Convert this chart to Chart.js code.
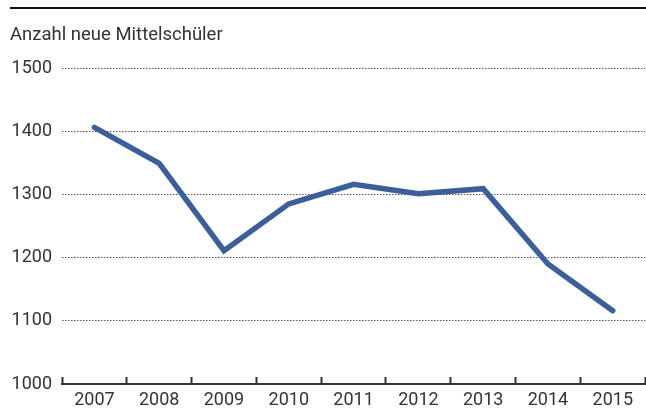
<!DOCTYPE html>
<html>
<head>
<meta charset="utf-8">
<script src="https://cdn.jsdelivr.net/npm/chart.js@4"></script>
<style>
  html, body { margin: 0; padding: 0; background: #fff; }
  #wrap { width: 646px; height: 412px; }
</style>
</head>
<body>
<div id="wrap"><canvas id="lineChart" width="646" height="412"></canvas></div>
<script>
// Anzahl neue Mittelschüler, 2007 - 2015
const years = ['2007', '2008', '2009', '2010', '2011', '2012', '2013', '2014', '2015'];
const schueler = [1406, 1349, 1211, 1285, 1316, 1301, 1309, 1190, 1116];
const yTicks = [1000, 1100, 1200, 1300, 1400, 1500];

const titleText = 'Anzahl neue Mittelschüler';

// black rule across the top
const topRule = {
    id: 'topRule',
    beforeDraw(chart) {
        const ctx = chart.ctx;
        ctx.save();
        ctx.strokeStyle = '#111';
        ctx.lineWidth = 2;
        ctx.beginPath();
        ctx.moveTo(10, 8);
        ctx.lineTo(chart.width, 8);
        ctx.stroke();
        ctx.restore();
    }
};

const ctx = document.getElementById('lineChart').getContext('2d');
const chart = new Chart(ctx, {
    type: 'line',
    data: {
        labels: years,
        datasets: [{
            label: titleText,
            data: schueler,
            borderColor: '#3b5f9b',
            borderWidth: 5.5,
            borderCapStyle: 'round',
            borderJoinStyle: 'miter',
            pointRadius: 0,
            tension: 0,
            fill: false
        }]
    },
    options: {
        responsive: false,
        animation: false,
        layout: { padding: { left: 10, right: 0, top: 0, bottom: 0 } },
        plugins: {
            legend: { display: false },
            tooltip: { enabled: false },
            title: {
                display: true,
                text: titleText,
                align: 'start',
                color: '#333',
                font: { family: 'Roboto', size: 18.5, weight: 'normal' },
                padding: { top: 24, bottom: 21.8 }
            }
        },
        scales: {
            x: {
                offset: true,
                grid: {
                    offset: true,
                    drawOnChartArea: false,
                    drawTicks: true,
                    tickLength: -7,
                    tickWidth: 2,
                    tickColor: '#333'
                },
                border: { display: true, color: '#333', width: 2 },
                ticks: {
                    color: '#333',
                    padding: 13,
                    font: { family: 'Roboto', size: 18 }
                },
                afterFit: s => { s.height = 28; }
            },
            y: {
                min: 1000,
                max: 1500,
                afterBuildTicks: s => { s.ticks = yTicks.map(v => ({ value: v })); },
                grid: {
                    drawTicks: false,
                    color: c => c.tick && c.tick.value === 1000 ? 'rgba(0,0,0,0)' : '#555',
                    lineWidth: 1
                },
                border: { display: false, dash: [1.5, 1.5] },
                ticks: {
                    color: '#333',
                    padding: 10,
                    font: { family: 'Roboto', size: 18 },
                    callback: v => String(v)
                },
                afterFit: s => { s.width = 52; }
            }
        }
    },
    plugins: [topRule]
});
</script>
</body>
</html>
